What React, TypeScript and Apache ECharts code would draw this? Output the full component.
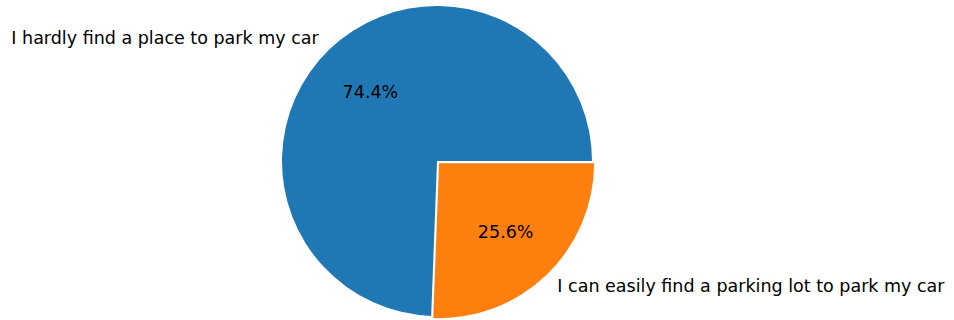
import React, { useEffect, useRef } from "react";
import * as echarts from "echarts";

const categories = [
  "I hardly find a place to park my car",
  "I can easily find a parking lot to park my car",
];
const values = [74.4, 25.6];
const colors = ["#1f77b4", "#ff7f0e"];
const exploded = [false, true];

export default function App() {
  const ref = useRef<HTMLDivElement>(null);
  useEffect(() => {
    document.body.style.margin = "0";
    const chart = echarts.init(ref.current!, null, { renderer: "svg" });
    const R = 155;
    const center = [437, 161];
    const font = { fontFamily: "DejaVu Sans", fontSize: 17.5, color: "#000" };
    const baseData = categories.map((name, i) => ({
      name,
      value: values[i],
      selected: exploded[i],
    }));
    chart.setOption({
      animation: false,
      series: [
        {
          type: "pie",
          center,
          radius: [0, R],
          startAngle: 0,
          clockwise: false,
          selectedMode: "multiple",
          selectedOffset: 3,
          silent: true,
          emphasis: { disabled: true, scale: false },
          data: baseData.map((d, i) => ({ ...d, itemStyle: { color: colors[i] } })),
          label: {
            show: true,
            position: "outside",
            formatter: "{b}",
            ...font,
            alignTo: "none",
            distanceToLabelLine: 0,
          },
          labelLine: { show: false, length: R * 0.1, length2: 0 },
          avoidLabelOverlap: false,
        },
        {
          type: "pie",
          center,
          radius: [0, R * 1.2],
          startAngle: 0,
          clockwise: false,
          selectedMode: "multiple",
          selectedOffset: 3,
          silent: true,
          emphasis: { disabled: true, scale: false },
          data: baseData.map((d) => ({ ...d, itemStyle: { color: "transparent" } })),
          label: {
            show: true,
            position: "inside",
            formatter: (p: any) => p.value.toFixed(1) + "%",
            ...font,
          },
          labelLine: { show: false },
        },
      ],
    });
    return () => chart.dispose();
  }, []);
  return <div ref={ref} style={{ width: 954, height: 320 }} />;
}
